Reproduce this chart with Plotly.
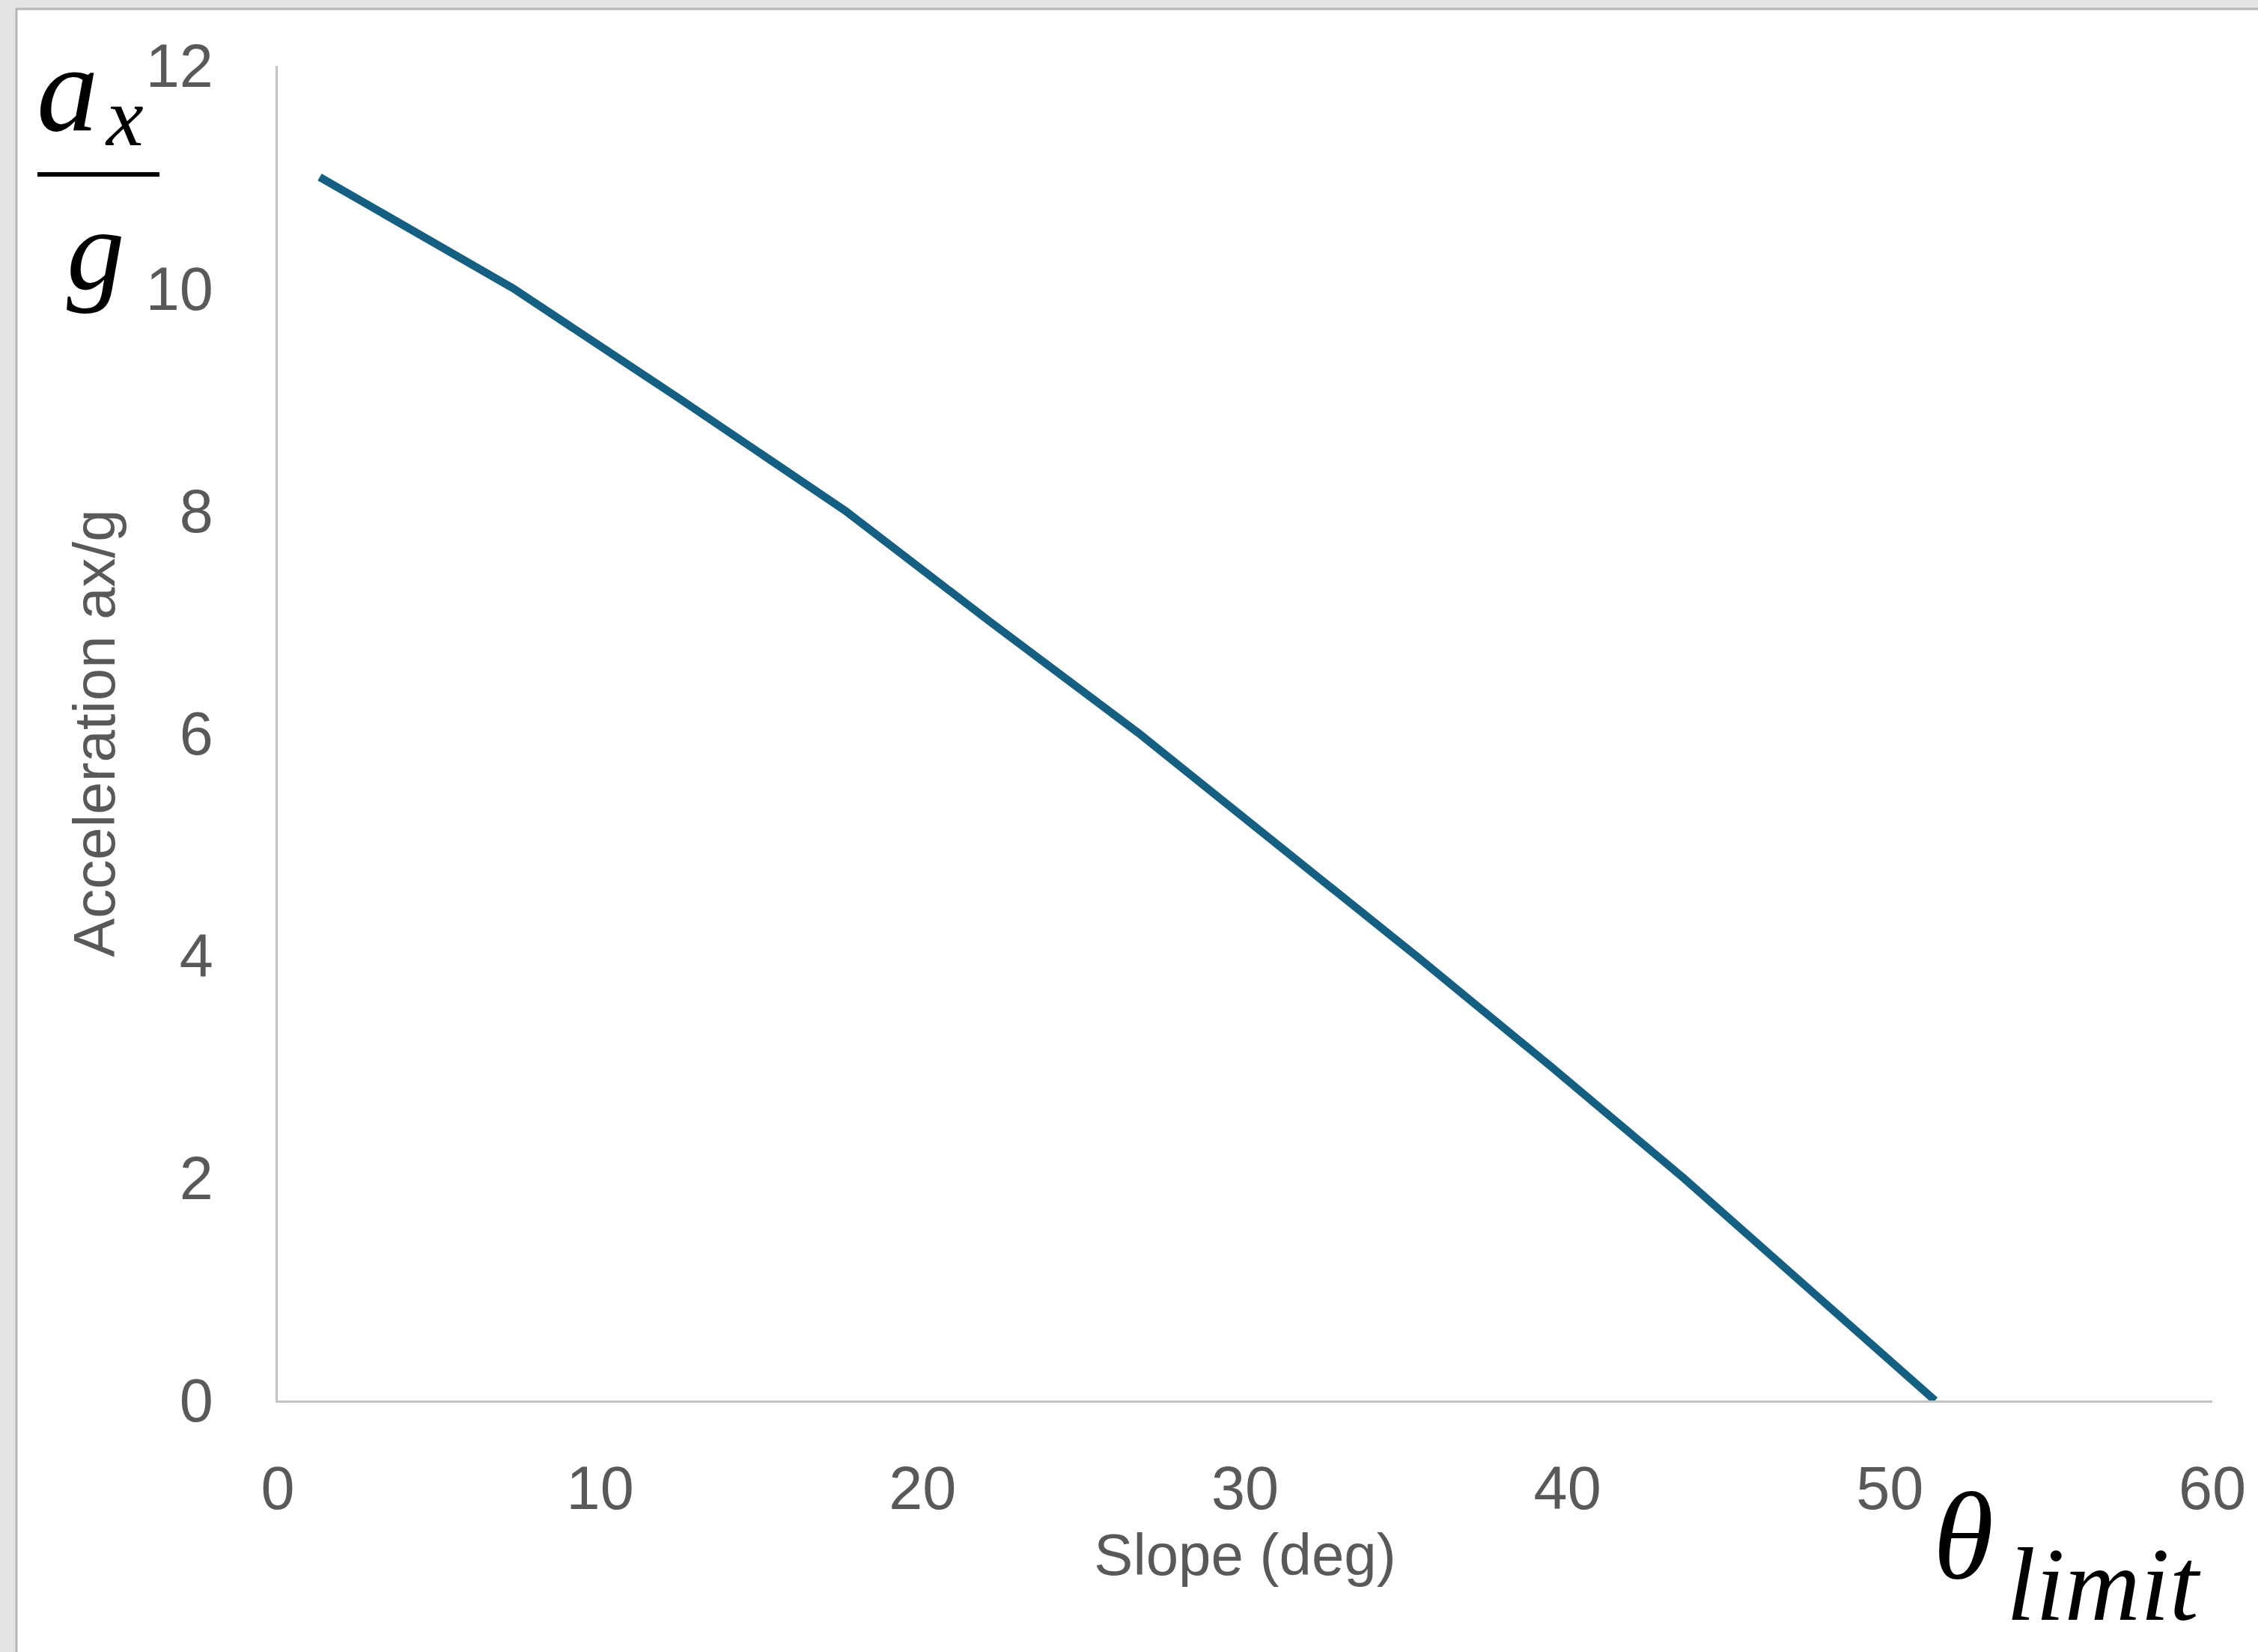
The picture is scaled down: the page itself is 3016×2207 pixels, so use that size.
import plotly.graph_objects as go

# ---- data ----
slope_deg = [1.3, 7.3, 12.5, 17.6, 22.1, 26.7, 31.0, 35.3, 39.5, 43.6, 47.5, 51.4]
accel_ax_g = [11, 10, 9, 8, 7, 6, 5, 4, 3, 2, 1, 0]
x_ticks = [0, 10, 20, 30, 40, 50, 60]
y_ticks = [0, 2, 4, 6, 8, 10, 12]

W, H = 3016, 2207
L, R, T, B = 371, 61, 88, 336
PW, PH = W - L - R, H - T - B


def px(xp):
    return (xp - L) / PW


def py(yp):
    return (H - B - yp) / PH


fig = go.Figure()
fig.add_trace(go.Scatter(
    x=slope_deg, y=accel_ax_g, mode="lines",
    line=dict(color="#156082", width=10.5),
    showlegend=False, hoverinfo="skip",
))

tick_font = dict(family="Liberation Sans, Arial, sans-serif", size=81, color="#595959")
title_font = dict(family="Liberation Sans, Arial, sans-serif", size=78, color="#595959")

fig.update_layout(
    width=W, height=H, autosize=False,
    margin=dict(l=L, r=R, t=T, b=B, pad=0),
    paper_bgcolor="#e4e4e4", plot_bgcolor="white",
    showlegend=False,
    xaxis=dict(
        range=[0, 60], tickvals=x_ticks, ticktext=[str(v) for v in x_ticks],
        showline=True, linecolor="#c3c3c3", linewidth=3, mirror=False,
        showgrid=False, zeroline=False, ticks="", tickfont=tick_font,
        ticklabelstandoff=45, automargin=False,
        title=dict(text="Slope (deg)", font=title_font, standoff=0),
    ),
    yaxis=dict(
        range=[0, 12], tickvals=y_ticks, ticktext=[str(v) for v in y_ticks],
        showline=True, linecolor="#c3c3c3", linewidth=3, mirror=False,
        showgrid=False, zeroline=False, ticks="", tickfont=tick_font,
        ticklabelstandoff=67, automargin=False,
        title=dict(text="Acceleration ax/g", font=title_font, standoff=16),
    ),
)

# white card with a thin gray border (the chart frame)
fig.add_shape(type="rect", xref="paper", yref="paper", layer="below",
              x0=px(22), x1=px(W + 20), y0=py(H + 20), y1=py(12),
              fillcolor="white", line=dict(color="#b5b5b5", width=3))

serif = "Liberation Serif, Times New Roman, serif"

# a_x / g fraction label (top-left)
fig.add_annotation(xref="paper", yref="paper", x=px(90), y=py(118),
                   text="<i>a</i>", showarrow=False, xanchor="center", yanchor="middle",
                   font=dict(family=serif, size=165, color="black"))
fig.add_annotation(xref="paper", yref="paper", x=px(166), y=py(156),
                   text="<i>x</i>", showarrow=False, xanchor="center", yanchor="middle",
                   font=dict(family=serif, size=112, color="black"))
fig.add_shape(type="line", xref="paper", yref="paper",
              x0=px(50), x1=px(213), y0=py(233), y1=py(233),
              line=dict(color="black", width=6))
fig.add_annotation(xref="paper", yref="paper", x=px(128), y=py(334),
                   text="<i>g</i>", showarrow=False, xanchor="center", yanchor="middle",
                   font=dict(family=serif, size=155, color="black"))

# theta_limit label (bottom-right)
fig.add_annotation(xref="paper", yref="paper", x=px(2580), y=py(2052),
                   text="<i>θ</i>", showarrow=False, xanchor="left", yanchor="middle",
                   font=dict(family=serif, size=165, color="black"))
fig.add_annotation(xref="paper", yref="paper", x=px(2678), y=py(2116),
                   text="<i>limit</i>", showarrow=False, xanchor="left", yanchor="middle",
                   font=dict(family=serif, size=140, color="black"))

fig.write_html("out.html", config={"displayModeBar": False},
               post_script="document.body.style.margin='0';")
